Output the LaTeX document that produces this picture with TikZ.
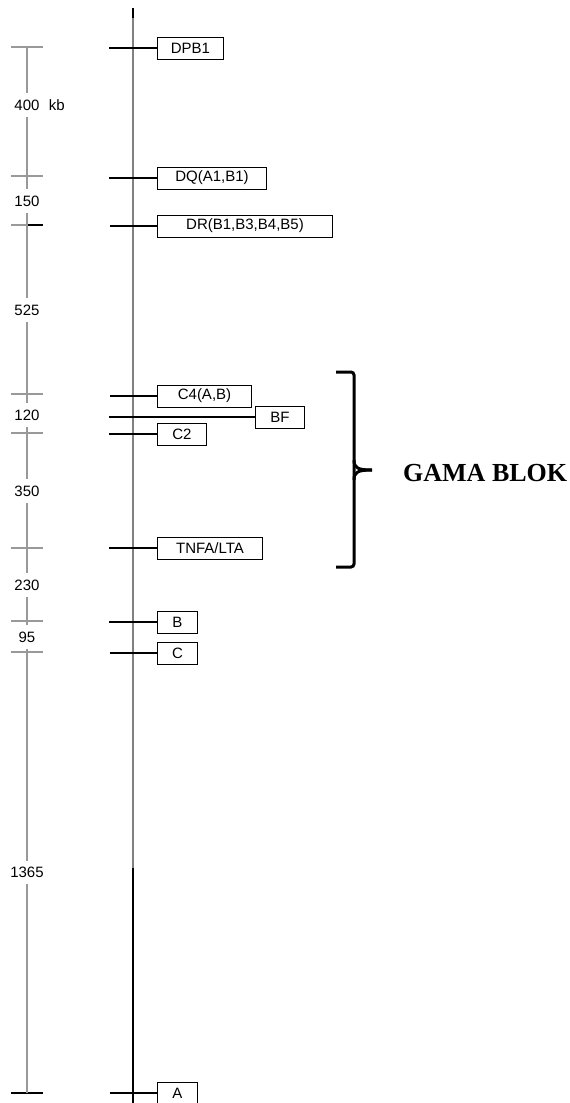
\documentclass[tikz,border=0pt]{standalone}
\usepackage{fontspec}
\setmainfont{Liberation Sans}
\newfontfamily\blokfont{Liberation Serif}
\usetikzlibrary{positioning}

\begin{document}
\begin{tikzpicture}[
  x=1pt, y=-1pt,
  genebox/.style={rectangle, draw, line width=1pt, anchor=west, minimum height=22pt, inner sep=2pt, font=\fontsize{15}{17}\selectfont},
  stub/.style={line width=2pt},
  thinstub/.style={line width=1.3pt},
  axis/.style={gray!80, line width=1.3pt},
  tickmark/.style={gray!80, line width=1.2pt},
  sizelabel/.style={font=\fontsize{15}{17}\selectfont, inner xsep=1pt, inner ysep=6pt},
  bracepen/.style={line width=3pt, rounded corners=3pt},
]
\useasboundingbox (0,0) rectangle (570,1103);

% chromosome
\draw[gray, line width=1.3pt] (133,8) -- (133,868);
\draw[black, line width=1.3pt] (133,8) -- (133,18);
\draw[black, line width=1.3pt] (133,868) -- (133,1103);

% distance scale
\coordinate (t1) at (27,47);
\coordinate (t2) at (27,176);
\coordinate (t3) at (27,225);
\coordinate (t4) at (27,394);
\coordinate (t5) at (27,433);
\coordinate (t6) at (27,548);
\coordinate (t7) at (27,621);
\coordinate (t8) at (27,652);
\coordinate (t9) at (27,1093);

\foreach \y in {47,176,225,394,433,548,621,652}
  \draw[tickmark] (11,\y) -- (43,\y);
\draw[black, line width=1.2pt] (27,225) -- (43,225);
\draw[black, line width=1.2pt] (11,1093) -- (43,1093);

\node[sizelabel] (l400)  at (27,105) {400};
\node[sizelabel, right=7pt of l400] (kb) {kb};
\node[sizelabel] (l150)  at (27,201) {150};
\node[sizelabel] (l525)  at (27,310) {525};
\node[sizelabel] (l120)  at (27,415) {120};
\node[sizelabel] (l350)  at (27,491) {350};
\node[sizelabel] (l230)  at (27,585) {230};
\node[sizelabel] (l95)   at (27,637) {95};
\node[sizelabel] (l1365) at (27,872) {1365};

\draw[axis] (t1) -- (l400) -- (t2) -- (l150) -- (t3) -- (l525) -- (t4) -- (l120) -- (t5)
  -- (l350) -- (t6) -- (l230) -- (t7) -- (l95) -- (t8) -- (l1365) -- (t9);

% genes
\node[genebox, minimum width=66pt]  (dpb1) at (157,48)   {DPB1};
\node[genebox, minimum width=109pt] (dq)   at (157,178)  {DQ(A1,B1)};
\node[genebox, minimum width=175pt] (dr)   at (157,226)  {DR(B1,B3,B4,B5)};
\node[genebox, minimum width=94pt]  (c4)   at (157,396)  {C4(A,B)};
\node[genebox, minimum width=49pt]  (bf)   at (255,417)  {BF};
\node[genebox, minimum width=49pt]  (c2)   at (157,434)  {C2};
\node[genebox, minimum width=105pt] (tnfa) at (157,548)  {TNFA/LTA};
\node[genebox, minimum width=40pt]  (b)    at (157,622)  {B};
\node[genebox, minimum width=40pt]  (c)    at (157,653)  {C};
\node[genebox, minimum width=40pt]  (a)    at (157,1093) {A};

\coordinate (s-dpb1) at (109,48);
\coordinate (s-dq)   at (109,178);
\coordinate (s-dr)   at (110,226);
\coordinate (s-c4)   at (110,396);
\coordinate (s-bf)   at (109,417);
\coordinate (s-c2)   at (109,434);
\coordinate (s-tnfa) at (109,548);
\coordinate (s-b)    at (109,622);
\coordinate (s-c)    at (110,653);
\coordinate (s-a)    at (110,1093);

\draw[stub]     (s-dpb1) -- (dpb1);
\draw[stub]     (s-dq)   -- (dq);
\draw[thinstub] (s-dr)   -- (dr);
\draw[stub]     (s-c4)   -- (c4);
\draw[stub]     (s-bf)   -- (bf);
\draw[stub]     (s-c2)   -- (c2);
\draw[stub]     (s-tnfa) -- (tnfa);
\draw[stub]     (s-b)    -- (b);
\draw[thinstub] (s-c)    -- (c);
\draw[thinstub] (s-a)    -- (a);

% gamma block brace
\draw[bracepen] (336,372) -- (354,372) -- (354,567) -- (336,567);
\draw[line width=3pt] (354,460) .. controls (354,468) and (358,470) .. (372,470);
\draw[line width=3pt] (354,480) .. controls (354,472) and (358,470) .. (372,470);
\node[font=\blokfont\bfseries\fontsize{26}{28}\selectfont, anchor=west, inner sep=0pt] (gama) at (403,473) {GAMA BLOK};
\end{tikzpicture}
\end{document}
